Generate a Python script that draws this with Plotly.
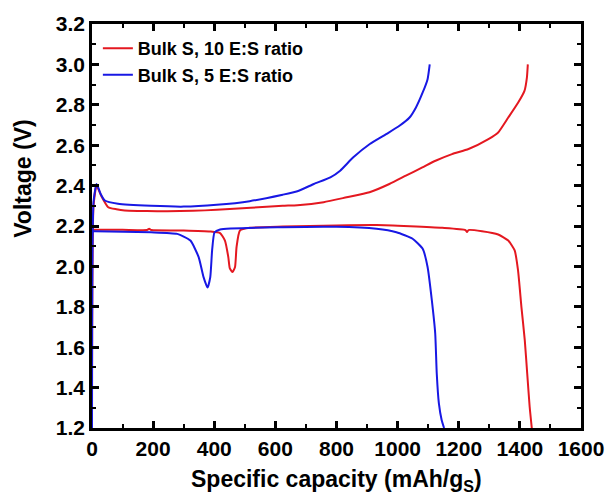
import plotly.graph_objects as go

# Red: Bulk S, 10 E:S ratio
cap_red_ch = [0, 5, 15, 30, 53, 80, 107, 180, 246, 330, 408, 520, 624, 672, 758, 833, 908, 973, 1027, 1081, 1124, 1178, 1232, 1297, 1329, 1362, 1394, 1415, 1423, 1426]
v_red_ch = [1.2, 2.30, 2.40, 2.35, 2.293, 2.283, 2.277, 2.274, 2.273, 2.275, 2.28, 2.29, 2.30, 2.303, 2.318, 2.342, 2.367, 2.408, 2.449, 2.49, 2.523, 2.556, 2.581, 2.63, 2.663, 2.737, 2.81, 2.869, 2.935, 3.0]
cap_red_dis = [0, 100, 180, 187, 194, 300, 387, 419, 435, 446, 451, 460, 468, 473, 484, 516, 624, 800, 931, 1146, 1222, 1227, 1232, 1276, 1329, 1362, 1383, 1394, 1405, 1416, 1424, 1432, 1439]
v_red_dis = [2.181, 2.181, 2.18, 2.186, 2.18, 2.178, 2.173, 2.165, 2.128, 2.046, 1.99, 1.972, 1.997, 2.096, 2.178, 2.191, 2.197, 2.203, 2.205, 2.191, 2.18, 2.17, 2.18, 2.174, 2.158, 2.128, 2.079, 1.98, 1.80, 1.635, 1.47, 1.305, 1.2]

# Blue: Bulk S, 5 E:S ratio
cap_blue_ch = [0, 5, 15, 28, 42, 85, 193, 300, 408, 516, 624, 672, 726, 780, 812, 855, 909, 963, 1006, 1039, 1060, 1082, 1098, 1105]
v_blue_ch = [1.2, 2.32, 2.408, 2.36, 2.326, 2.31, 2.30, 2.296, 2.305, 2.323, 2.355, 2.372, 2.408, 2.441, 2.474, 2.54, 2.606, 2.655, 2.696, 2.737, 2.787, 2.861, 2.927, 3.0]
cap_blue_dis = [0, 10, 193, 279, 322, 349, 365, 378, 387, 393, 401, 419, 624, 800, 931, 996, 1049, 1082, 1098, 1112, 1123, 1128, 1135, 1144, 1152]
v_blue_dis = [2.174, 2.174, 2.169, 2.161, 2.128, 2.046, 1.947, 1.895, 1.947, 2.079, 2.169, 2.183, 2.194, 2.196, 2.186, 2.169, 2.137, 2.087, 1.997, 1.832, 1.668, 1.47, 1.322, 1.24, 1.2]

names = ["Bulk S, 10 E:S ratio", "Bulk S, 5 E:S ratio"]
x_ticks = [0, 200, 400, 600, 800, 1000, 1200, 1400, 1600]
y_ticks = [1.2, 1.4, 1.6, 1.8, 2.0, 2.2, 2.4, 2.6, 2.8, 3.0, 3.2]
x_title = "Specific capacity (mAh/g<sub>S</sub>)"
y_title = "Voltage (V)"

RED = "rgb(228,24,32)"
BLUE = "rgb(24,24,228)"

fig = go.Figure()
series = [
    (cap_red_dis, v_red_dis, RED, names[0], True),
    (cap_red_ch, v_red_ch, RED, names[0], False),
    (cap_blue_dis, v_blue_dis, BLUE, names[1], True),
    (cap_blue_ch, v_blue_ch, BLUE, names[1], False),
]
for x, y, c, n, show in series:
    fig.add_trace(go.Scatter(x=x, y=y, mode="lines", name=n, legendgroup=n,
                             showlegend=show,
                             line=dict(color=c, width=2, shape="spline", smoothing=0.5)))

font_family = "Liberation Sans, Arial, sans-serif"
axis_common = dict(
    showline=True, linecolor="black", linewidth=2.5, mirror="ticks",
    ticks="inside", ticklen=7, tickwidth=2.5, tickcolor="black",
    showgrid=False, zeroline=False,
    tickfont=dict(family=font_family, size=21, color="black", weight="bold"),
)
fig.update_xaxes(range=[0, 1600], tickmode="array", tickvals=x_ticks,
                 ticktext=["<b>%d</b>" % v for v in x_ticks],
                 minor=dict(dtick=100, tick0=0, ticklen=4, tickwidth=2, tickcolor="black", ticks="inside"),
                 **axis_common)
fig.update_yaxes(range=[1.2, 3.2], tickmode="array", tickvals=y_ticks,
                 ticktext=["<b>%.1f</b>" % v for v in y_ticks],
                 minor=dict(dtick=0.1, tick0=1.2, ticklen=4, tickwidth=2, tickcolor="black", ticks="inside"),
                 **axis_common)

title_font = dict(family=font_family, size=23, color="black")
fig.add_annotation(text="<b>%s</b>" % x_title, xref="paper", yref="paper",
                   x=0.5, y=-0.131, xanchor="center", yanchor="middle",
                   showarrow=False, font=title_font)
fig.add_annotation(text="<b>%s</b>" % y_title, xref="paper", yref="paper",
                   x=-0.141, y=0.617, xanchor="center", yanchor="middle",
                   textangle=-90, showarrow=False, font=title_font)

fig.update_layout(
    width=616, height=499,
    margin=dict(l=92, r=29, t=23, b=71),
    plot_bgcolor="white", paper_bgcolor="white",
    legend=dict(x=0.012, y=0.985, xanchor="left", yanchor="top",
                bgcolor="rgba(0,0,0,0)", tracegroupgap=0,
                font=dict(family=font_family, size=18, color="black", weight="bold")),
    showlegend=True,
)
fig.write_html("out.html")
